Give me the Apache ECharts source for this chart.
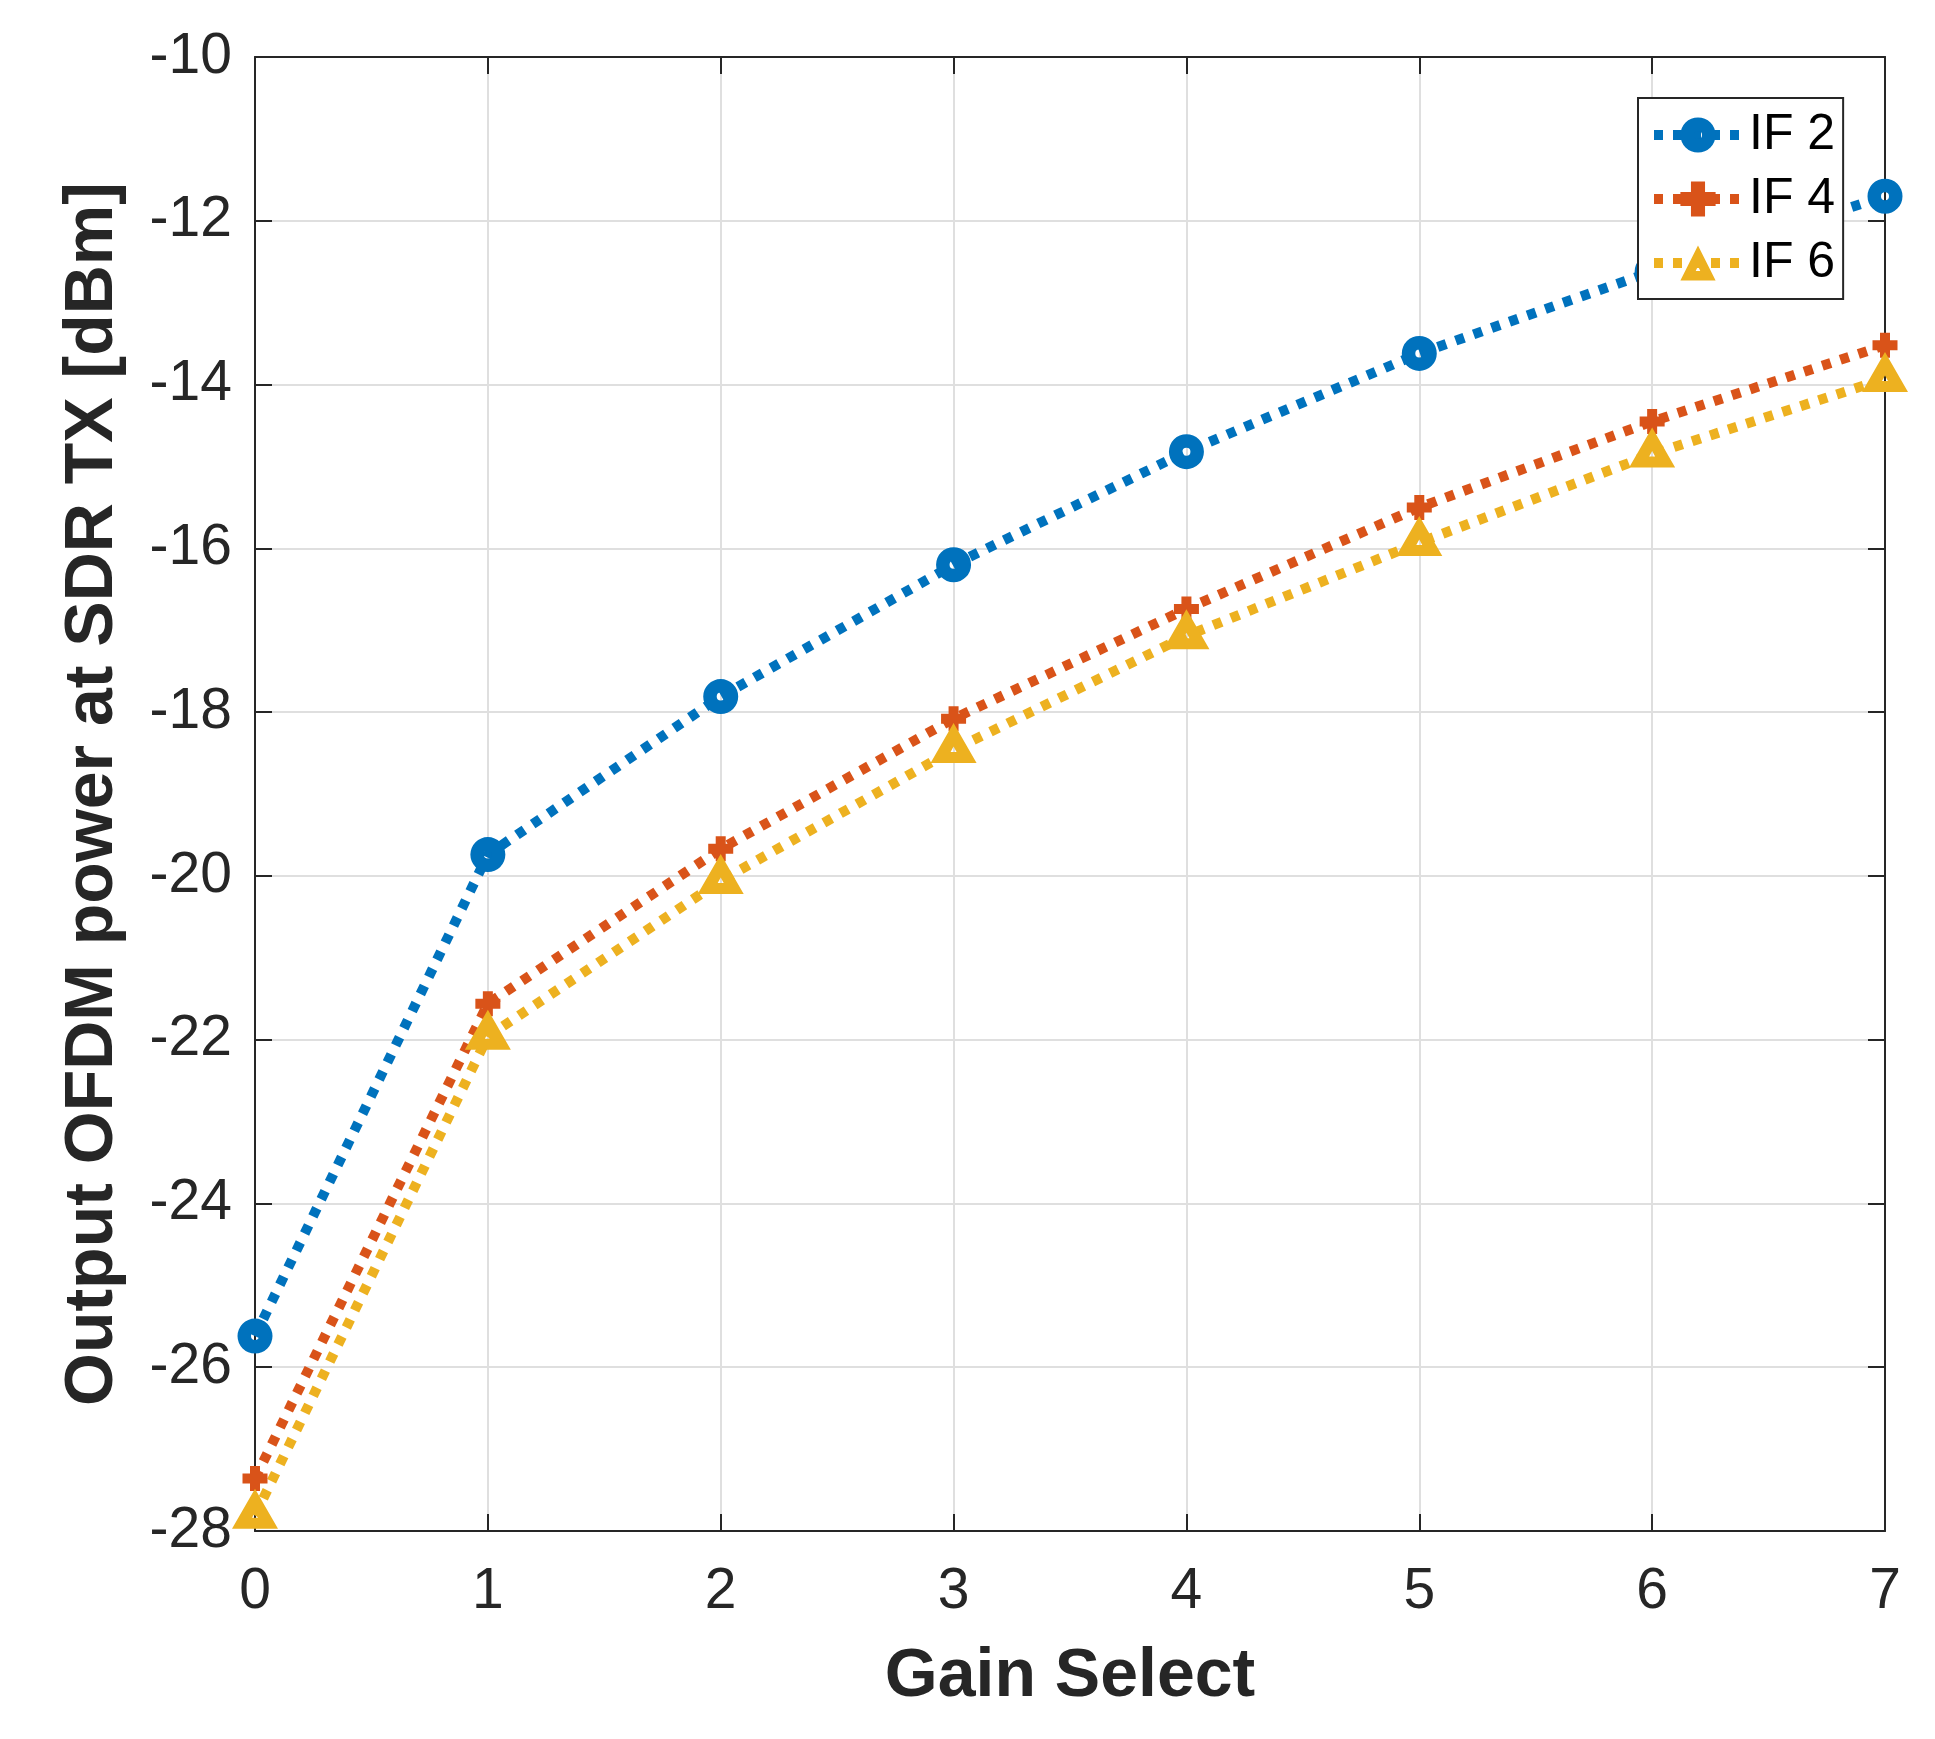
<!DOCTYPE html>
<html>
<head>
<meta charset="utf-8">
<script src="https://cdn.jsdelivr.net/npm/echarts@6/dist/echarts.min.js"></script>
<style>
  html, body { margin: 0; padding: 0; background: #fff; }
  #chart { width: 1935px; height: 1739px; }
</style>
</head>
<body>
<div id="chart"></div>
<script>
// ---- data ----
var gainSelect = [0, 1, 2, 3, 4, 5, 6, 7];
var seriesNames = ['IF 2', 'IF 4', 'IF 6'];
var if2 = [-25.62, -19.74, -17.81, -16.20, -14.82, -13.62, -12.62, -11.70];
var if4 = [-27.36, -21.56, -19.67, -18.08, -16.74, -15.50, -14.45, -13.52];
var if6 = [-27.81, -21.96, -20.06, -18.46, -17.07, -15.93, -14.85, -13.93];
var xTicks = { min: 0, max: 7, interval: 1 };
var yTicks = { min: -28, max: -10, interval: 2 };

var FONT = '"Liberation Sans", Arial, Helvetica, sans-serif';
var AX = '#262626';
var colors = ['#0072BD', '#D95319', '#EDB120'];

function pairs(vals) {
  return gainSelect.map(function (g, i) { return [g, vals[i]]; });
}

var ringPath = 'path://M0,-17.5A17.5,17.5,0,1,1,0,17.5A17.5,17.5,0,1,1,0,-17.5ZM0,-4A4,4,0,1,0,0,4A4,4,0,1,0,0,-4Z';
var plusPath = 'path://M-5,-12.5L5,-12.5L5,-5L12.5,-5L12.5,5L5,5L5,12.5L-5,12.5L-5,5L-12.5,5L-12.5,-5L-5,-5Z';
var triPath = 'path://M0,-20L23,20L-23,20ZM0,3.5L-3,9L3,9Z';

var lineBase = { width: 10, type: [9, 10], cap: 'butt' };

function mkSeries(name, vals, color, symbol, size, offset) {
  return {
    name: name,
    type: 'line',
    data: pairs(vals),
    xAxisIndex: 0,
    yAxisIndex: 0,
    symbol: symbol,
    symbolSize: size,
    symbolOffset: offset || [0, 0],
    showAllSymbol: true,
    clip: false,
    lineStyle: Object.assign({ color: color }, lineBase),
    itemStyle: { color: color, borderWidth: 0 },
    emphasis: { disabled: true },
    animation: false
  };
}

function xAxisCfg(pos, main) {
  return {
    type: 'value', position: pos,
    min: xTicks.min, max: xTicks.max, interval: xTicks.interval,
    axisLine: { show: true, onZero: false, lineStyle: { color: AX, width: 2 } },
    axisTick: { show: true, inside: true, length: 17, lineStyle: { color: AX, width: 2 } },
    axisLabel: { show: main, margin: 33, fontSize: 57, color: AX, fontFamily: FONT },
    splitLine: { show: main, lineStyle: { color: '#dfdfdf', width: 2 } },
    name: main ? 'Gain Select' : '',
    nameLocation: 'middle',
    nameGap: 112,
    nameTextStyle: { fontSize: 68, fontWeight: 'bold', color: AX, fontFamily: FONT }
  };
}

function yAxisCfg(pos, main) {
  return {
    type: 'value', position: pos,
    min: yTicks.min, max: yTicks.max, interval: yTicks.interval,
    axisLine: { show: true, onZero: false, lineStyle: { color: AX, width: 2 } },
    axisTick: { show: true, inside: true, length: 17, lineStyle: { color: AX, width: 2 } },
    axisLabel: { show: main, margin: 23, fontSize: 57, color: AX, fontFamily: FONT },
    splitLine: { show: main, lineStyle: { color: '#dfdfdf', width: 2 } },
    name: main ? 'Output OFDM power at SDR TX [dBm]' : '',
    nameLocation: 'middle',
    nameGap: 128,
    nameTextStyle: { fontSize: 68, fontWeight: 'bold', color: AX, fontFamily: FONT }
  };
}

var chart = echarts.init(document.getElementById('chart'), null, { renderer: 'canvas' });
chart.setOption({
  backgroundColor: '#fff',
  animation: false,
  grid: { left: 255, top: 57, right: 50, bottom: 208, containLabel: false },
  xAxis: [xAxisCfg('bottom', true), xAxisCfg('top', false)],
  yAxis: [yAxisCfg('left', true), yAxisCfg('right', false)],
  legend: {
    show: true,
    data: seriesNames,
    orient: 'vertical',
    left: 1638,
    top: 98,
    padding: [12, 8, 11, 11],
    itemGap: 14,
    itemWidth: 88,
    itemHeight: 44,
    backgroundColor: '#fff',
    borderColor: AX,
    borderWidth: 2,
    borderRadius: 0,
    selectedMode: false,
    lineStyle: { width: 10, type: [9, 10], cap: 'butt' },
    textStyle: { fontSize: 50, lineHeight: 50, color: '#000', fontFamily: FONT, padding: [0, 0, 0, 2] }
  },
  series: [
    mkSeries(seriesNames[0], if2, colors[0], ringPath, 35),
    mkSeries(seriesNames[1], if4, colors[1], plusPath, 25),
    mkSeries(seriesNames[2], if6, colors[2], triPath, [46, 40], [0, -6.7])
  ]
});
</script>
</body>
</html>
